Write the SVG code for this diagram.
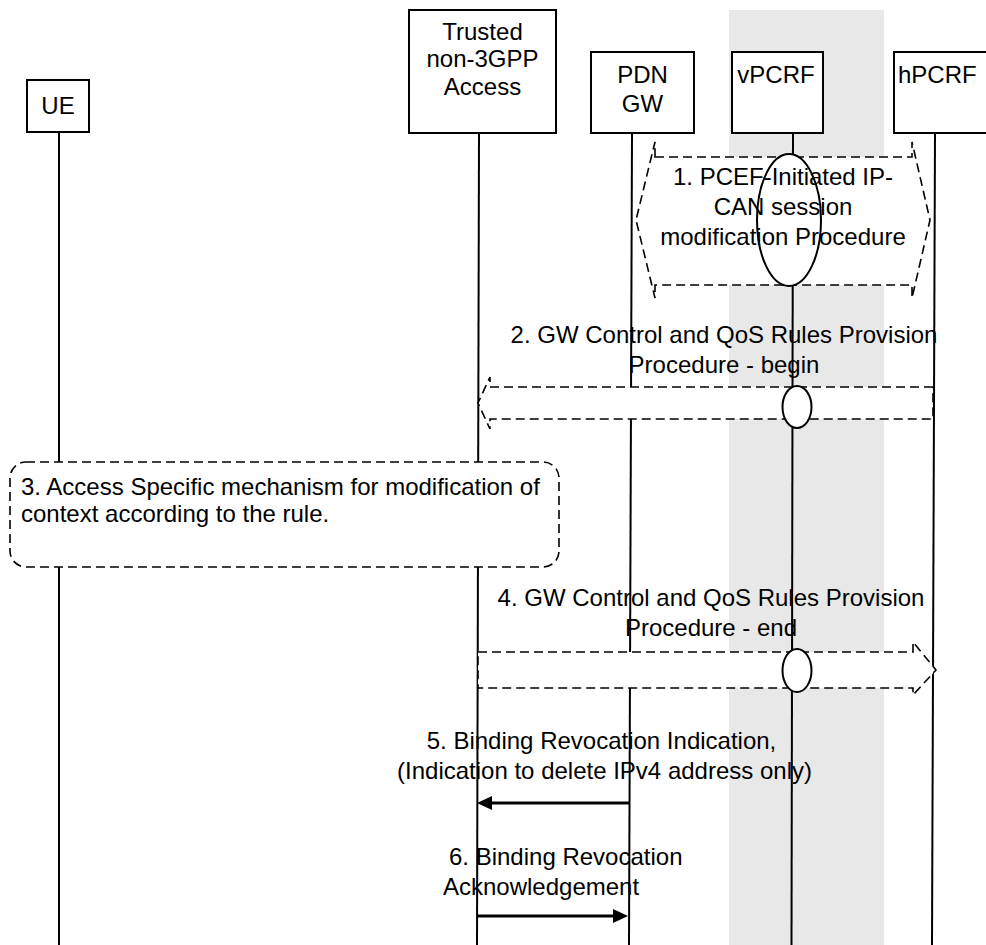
<svg xmlns="http://www.w3.org/2000/svg" width="986" height="945" viewBox="0 0 986 945">
<style>
  .box { fill: #ffffff; stroke: #000000; stroke-width: 2; }
  .life { stroke: #000000; stroke-width: 2; fill: none; }
  .dash { fill: #ffffff; stroke: #000000; stroke-width: 1.6; stroke-dasharray: 9 5; }
  .oval { fill: #ffffff; stroke: #000000; stroke-width: 2; }
  .msg { stroke: #000000; stroke-width: 3; fill: none; }
  .head { fill: #000000; stroke: none; }
  text { font-family: "Liberation Sans", Arial, sans-serif; font-size: 24px; fill: #000000; }
  .c { text-anchor: middle; }
</style>
<rect x="0" y="0" width="986" height="945" fill="#ffffff"/>
<rect id="visited-domain" x="729" y="10" width="155" height="935" fill="#e8e8e8"/>

<g id="node-ue">
  <rect class="box" x="27" y="80" width="62" height="52"/>
  <text class="c" x="58" y="114">UE</text>
  <line class="life" x1="59" y1="132" x2="59" y2="945"/>
</g>
<g id="node-trusted">
  <rect class="box" x="409" y="10" width="147" height="123"/>
  <text class="c" x="482.5" y="40">Trusted</text>
  <text class="c" x="482.5" y="67">non-3GPP</text>
  <text class="c" x="482.5" y="95">Access</text>
  <line class="life" x1="479" y1="133" x2="477" y2="945"/>
</g>
<g id="node-pdngw">
  <rect class="box" x="591" y="52" width="103" height="81"/>
  <text class="c" x="642.5" y="83">PDN</text>
  <text class="c" x="642.5" y="112">GW</text>
  <line class="life" x1="632" y1="133" x2="629" y2="945"/>
</g>
<g id="node-vpcrf">
  <rect class="box" x="732" y="52" width="91" height="81"/>
  <text class="c" x="776" y="83">vPCRF</text>
  <line class="life" x1="793" y1="133" x2="791.5" y2="945"/>
</g>
<g id="node-hpcrf">
  <rect class="box" x="894" y="52" width="110" height="81"/>
  <text x="898" y="83">hPCRF</text>
  <line class="life" x1="935" y1="133" x2="932" y2="945"/>
</g>

<g id="step1">
  <path class="dash" d="M655,157 H912 V142 L930,220 L912,298 V285 H655 V298 L636,220 L655,142 Z"/>
  <ellipse class="oval" cx="789" cy="220" rx="32" ry="66"/>
  <text class="c" x="783" y="185">1. PCEF-Initiated IP-</text>
  <text class="c" x="783" y="215">CAN session</text>
  <text class="c" x="783" y="245">modification Procedure</text>
</g>

<g id="step2">
  <path class="dash" d="M933,387 H490 V377 L478,403 L490,429 V419 H933 Z"/>
  <ellipse class="oval" cx="797" cy="407" rx="14.5" ry="21"/>
  <text class="c" x="724" y="343">2. GW Control and QoS Rules Provision</text>
  <text class="c" x="724" y="373">Procedure - begin</text>
</g>

<g id="step3">
  <rect class="dash" x="10" y="462" width="549" height="105" rx="16" ry="16"/>
  <text x="21" y="495">3. Access Specific mechanism for modification of</text>
  <text x="21" y="522">context according to the rule.</text>
</g>

<g id="step4">
  <path class="dash" d="M478,652 H913 V642 L936,670 L913,695 V688 H478 Z"/>
  <ellipse class="oval" cx="797" cy="670.5" rx="14.5" ry="21.5"/>
  <text class="c" x="711" y="606">4. GW Control and QoS Rules Provision</text>
  <text class="c" x="711" y="636">Procedure - end</text>
</g>

<g id="connectors">
  <g id="msg5">
    <line class="msg" x1="629" y1="803" x2="490" y2="803"/>
    <polygon class="head" points="477,803 492,796 492,810"/>
    <text class="c" x="601.5" y="749">5. Binding Revocation Indication,</text>
    <text class="c" x="604.5" y="779">(Indication to delete IPv4 address only)</text>
  </g>
  <g id="msg6">
    <line class="msg" x1="478" y1="916" x2="615" y2="916"/>
    <polygon class="head" points="628,916 613,909 613,923"/>
    <text x="449" y="865">6. Binding Revocation</text>
    <text x="443" y="895">Acknowledgement</text>
  </g>
</g>
</svg>
